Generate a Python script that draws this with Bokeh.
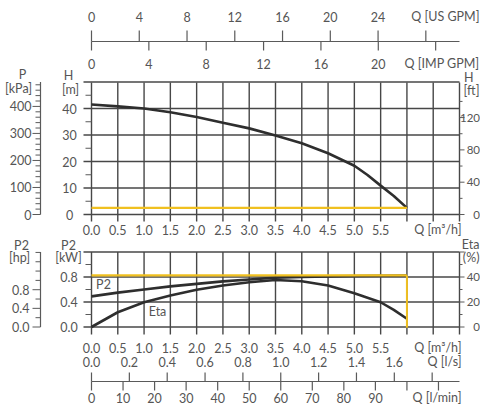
from bokeh.plotting import figure
from bokeh.models import Range1d
from bokeh.core.properties import value
from bokeh.embed import file_html
from bokeh.resources import INLINE

# ---------------- data ----------------
flow_head = [0.0, 0.5, 1.0, 1.5, 2.0, 2.5, 3.0, 3.5, 4.0, 4.5, 5.0, 5.25, 5.5, 5.75, 6.0]
head_m = [41.5, 40.8, 40.0, 38.6, 36.8, 34.6, 32.5, 29.8, 26.9, 23.1, 18.4, 14.9, 10.9, 7.0, 2.5]

flow_p2 = [0.0, 0.5, 1.0, 1.5, 2.0, 2.5, 3.0, 3.5, 4.0, 4.5, 5.0, 5.5, 6.0]
p2_kw = [0.49, 0.55, 0.60, 0.65, 0.69, 0.73, 0.76, 0.79, 0.80, 0.81, 0.815, 0.82, 0.825]

flow_eta = [0.0, 0.5, 1.0, 1.5, 2.0, 2.5, 3.0, 3.5, 4.0, 4.5, 5.0, 5.5, 5.75, 6.0]
eta_pct = [0.0, 11.8, 19.8, 25.2, 29.8, 33.2, 35.8, 37.6, 36.6, 33.2, 27.0, 19.8, 13.7, 6.6]

duty_flow = 6.0
duty_head = 2.5
duty_p2 = 0.825

q_grid = [i * 0.5 for i in range(15)]          # 0 .. 7.0 m3/h
q_labels = [i * 0.5 for i in range(12)]        # 0.0 .. 5.5
h_grid = [0, 10, 20, 30, 40, 50]
h_minor = [5, 15, 25, 35, 45]
h_labels = [0, 10, 20, 30, 40]
kpa_ticks = list(range(0, 481, 20))
kpa_labels = [0, 100, 200, 300, 400]
ft_ticks = list(range(0, 141, 20))
ft_labels = [0, 40, 80, 120]
kw_grid = [0.0, 0.4, 0.8, 1.2]
kw_minor = [0.2, 0.6, 1.0]
kw_labels = [0.0, 0.4, 0.8]
hp_ticks = [i * 0.2 for i in range(9)]
hp_labels = [0.0, 0.4, 0.8]
eta_ticks = [0, 10, 20, 30, 40, 50, 60]
eta_labels = [0, 20, 40]
us_gpm_ticks = list(range(0, 29, 4))
us_gpm_labels = list(range(0, 25, 4))
imp_gpm_ticks = list(range(0, 25, 4))
imp_gpm_labels = list(range(0, 21, 4))
lps_ticks = [i * 0.2 for i in range(10)]
lps_labels = [i * 0.2 for i in range(9)]
lpm_ticks = list(range(0, 111, 10))
lpm_labels = list(range(0, 91, 10))

# unit conversions to the base units (m3/h, m, kW)
US_GPM = 0.2271247
IMP_GPM = 0.2727654
LPS = 3.6
LPM = 0.06
KPA_M = 0.101972
FT_M = 0.3048
HP_KW = 0.7457

# ---------------- layout (canvas pixels, y downwards) ----------------
W, H = 480, 404
X0 = 91.0
XR = 459.0                          # right edge of the grids
SXQ = (XR - X0) / 7.0               # px per m3/h
H0, SH = 214.0, 2.65                # H=0 position, px per m
K0, SK = 326.5, 62.5                # P2=0 position, px per kW
SE = 1.25                           # px per %

GRID = "#474747"
AX = "#5a5a5a"
TXT = "#555555"
CURVE = "#2e2e2e"
YEL = "#f0c020"
FONT = value("Lato")
FS = "12.5px"
FS_R = "11.5px"

p = figure(width=W, height=H, output_backend="svg", toolbar_location=None,
           x_range=Range1d((0 - X0) / SXQ, (W - X0) / SXQ),
           y_range=Range1d(H, 0), min_border=0,
           x_axis_type=None, y_axis_type=None)
p.outline_line_color = None
p.background_fill_color = "white"
p.border_fill_color = "white"
p.extra_x_ranges = {"px": Range1d(0, W)}
p.extra_y_ranges = {
    "H": Range1d((H0 - H) / SH, H0 / SH),
    "kW": Range1d((K0 - H) / SK, K0 / SK),
    "eta": Range1d((K0 - H) / SE, K0 / SE),
}


def qx(px):
    return (px - X0) / SXQ


def seg(x0, y0, x1, y1, color=AX, width=1.2, **kw):
    p.segment(x0=x0, y0=y0, x1=x1, y1=y1, line_color=color, line_width=width, **kw)


def txt(xs, ys, texts, align="center", size=FS, **kw):
    p.text(x=xs, y=ys, text=texts, text_font=FONT, text_font_size=size,
           text_color=TXT, text_align=align, text_baseline="middle", **kw)


# ================= top chart: head =================
n = len(q_grid)
seg(q_grid, [82] * n, q_grid, [221] * n, color=GRID, width=1.4)
seg([qx(83)] * len(h_grid), h_grid, [7.0] * len(h_grid), h_grid, color=GRID, width=1.4, y_range_name="H")
seg([qx(85)] * len(h_minor), h_minor, [0.0] * len(h_minor), h_minor, y_range_name="H")
txt([69] * len(h_labels), h_labels, [str(v) for v in h_labels], x_range_name="px", y_range_name="H")
txt([68, 70], [75, 89], ["H", "[m]"], x_range_name="px")

# P [kPa] axis
seg([40], [0], [40], [50], x_range_name="px", y_range_name="H")
kpa_y = [v * KPA_M for v in kpa_ticks]
kpa_x1 = [32 if v % 100 == 0 else 35 for v in kpa_ticks]
seg([40] * len(kpa_ticks), kpa_y, kpa_x1, kpa_y, x_range_name="px", y_range_name="H", width=1.0)
txt([31] * len(kpa_labels), [v * KPA_M for v in kpa_labels], [str(v) for v in kpa_labels],
    align="right", x_range_name="px", y_range_name="H")
txt([22, 18], [74, 88], ["P", "[kPa]"], x_range_name="px")

# H [ft] axis (right)
ft_y = [v * FT_M for v in ft_ticks]
ft_x1 = [XR + 5 if v % 40 == 0 else XR + 3 for v in ft_ticks]
seg([XR] * len(ft_ticks), ft_y, ft_x1, ft_y, x_range_name="px", y_range_name="H", width=1.0)
txt([479.5] * len(ft_labels), [v * FT_M for v in ft_labels], [str(v) for v in ft_labels],
    align="right", size=FS_R, x_range_name="px", y_range_name="H")
txt([473, 479], [77, 90], ["H", "[ft]"], align="right", x_range_name="px")

# Q [m3/h] labels under top chart
txt(q_labels, [229] * len(q_labels), [f"{v:.1f}" for v in q_labels])
txt([XR + 2], [229], ["Q [m\u00b3/h]"], align="right", x_range_name="px")

# top GPM axes
seg([0.0], [41], [7.0], [41])
us_x = [v * US_GPM for v in us_gpm_ticks]
seg(us_x, [41] * len(us_x), us_x, [30] * len(us_x))
imp_x = [v * IMP_GPM for v in imp_gpm_ticks]
seg(imp_x, [41] * len(imp_x), imp_x, [50] * len(imp_x))
txt([v * US_GPM for v in us_gpm_labels], [16] * len(us_gpm_labels), [str(v) for v in us_gpm_labels])
txt([v * IMP_GPM for v in imp_gpm_labels], [63] * len(imp_gpm_labels), [str(v) for v in imp_gpm_labels])
txt([479], [16], ["Q [US GPM]"], align="right", x_range_name="px")
txt([479], [63], ["Q [IMP GPM]"], align="right", x_range_name="px")

# head curve + duty line
p.line(flow_head, head_m, line_color=CURVE, line_width=2.6, y_range_name="H")
seg([0.0], [duty_head], [duty_flow], [duty_head], color=YEL, width=2.2, y_range_name="H")

# ================= bottom chart: P2 / Eta =================
seg(q_grid, [251.5] * n, q_grid, [334] * n, color=GRID, width=1.4)
seg([qx(83)] * len(kw_grid), kw_grid, [7.0] * len(kw_grid), kw_grid, color=GRID, width=1.4, y_range_name="kW")
seg([qx(85)] * len(kw_minor), kw_minor, [0.0] * len(kw_minor), kw_minor, y_range_name="kW")
txt([68.5] * len(kw_labels), kw_labels, [f"{v:.1f}" for v in kw_labels], x_range_name="px", y_range_name="kW")
txt([68, 68], [245, 257], ["P2", "[kW]"], x_range_name="px")

# P2 [hp] axis
seg([40], [0], [40], [1.2], x_range_name="px", y_range_name="kW")
hp_y = [v * HP_KW for v in hp_ticks]
hp_x1 = [32 if v in hp_labels else 35 for v in hp_ticks]
seg([40] * len(hp_ticks), hp_y, hp_x1, hp_y, x_range_name="px", y_range_name="kW", width=1.0)
txt([29] * len(hp_labels), [v * HP_KW for v in hp_labels], [f"{v:.1f}" for v in hp_labels],
    align="right", x_range_name="px", y_range_name="kW")
txt([21, 19], [245, 257], ["P2", "[hp]"], x_range_name="px")

# Eta (%) axis (right)
eta_x1 = [XR + 5 if v % 20 == 0 else XR + 3 for v in eta_ticks]
seg([XR] * len(eta_ticks), eta_ticks, eta_x1, eta_ticks, x_range_name="px", y_range_name="eta", width=1.0)
txt([479.5] * len(eta_labels), eta_labels, [str(v) for v in eta_labels],
    align="right", size=FS_R, x_range_name="px", y_range_name="eta")
txt([479, 479], [244, 257], ["Eta", "(%)"], align="right", x_range_name="px")

# curves
p.line(flow_p2, p2_kw, line_color=CURVE, line_width=2.6, y_range_name="kW")
p.line(flow_eta, eta_pct, line_color=CURVE, line_width=2.6, y_range_name="eta")
txt([103, 157], [284, 311], ["P2", "Eta"], x_range_name="px")

# duty lines
seg([0.0], [duty_p2], [duty_flow], [duty_p2], color=YEL, width=2.2, y_range_name="kW")
seg([duty_flow], [-0.01], [duty_flow], [duty_p2], color=YEL, width=2.0, y_range_name="kW")

# bottom axes
txt(q_labels, [347] * len(q_labels), [f"{v:.1f}" for v in q_labels])
txt([XR + 2], [347], ["Q [m\u00b3/h]"], align="right", x_range_name="px")
txt([v * LPS for v in lps_labels], [361] * len(lps_labels), [f"{v:.1f}" for v in lps_labels])
txt([XR + 2], [361], ["Q [l/s]"], align="right", x_range_name="px")
seg([0.0], [381], [7.0], [381])
lps_x = [v * LPS for v in lps_ticks]
seg(lps_x, [381] * len(lps_x), lps_x, [372] * len(lps_x))
lpm_x = [v * LPM for v in lpm_ticks]
seg(lpm_x, [381] * len(lpm_x), lpm_x, [390] * len(lpm_x))
txt([v * LPM for v in lpm_labels], [397] * len(lpm_labels), [str(v) for v in lpm_labels])
txt([XR + 2], [397], ["Q [l/min]"], align="right", x_range_name="px")

open("out.html", "w").write(file_html(p, INLINE))
